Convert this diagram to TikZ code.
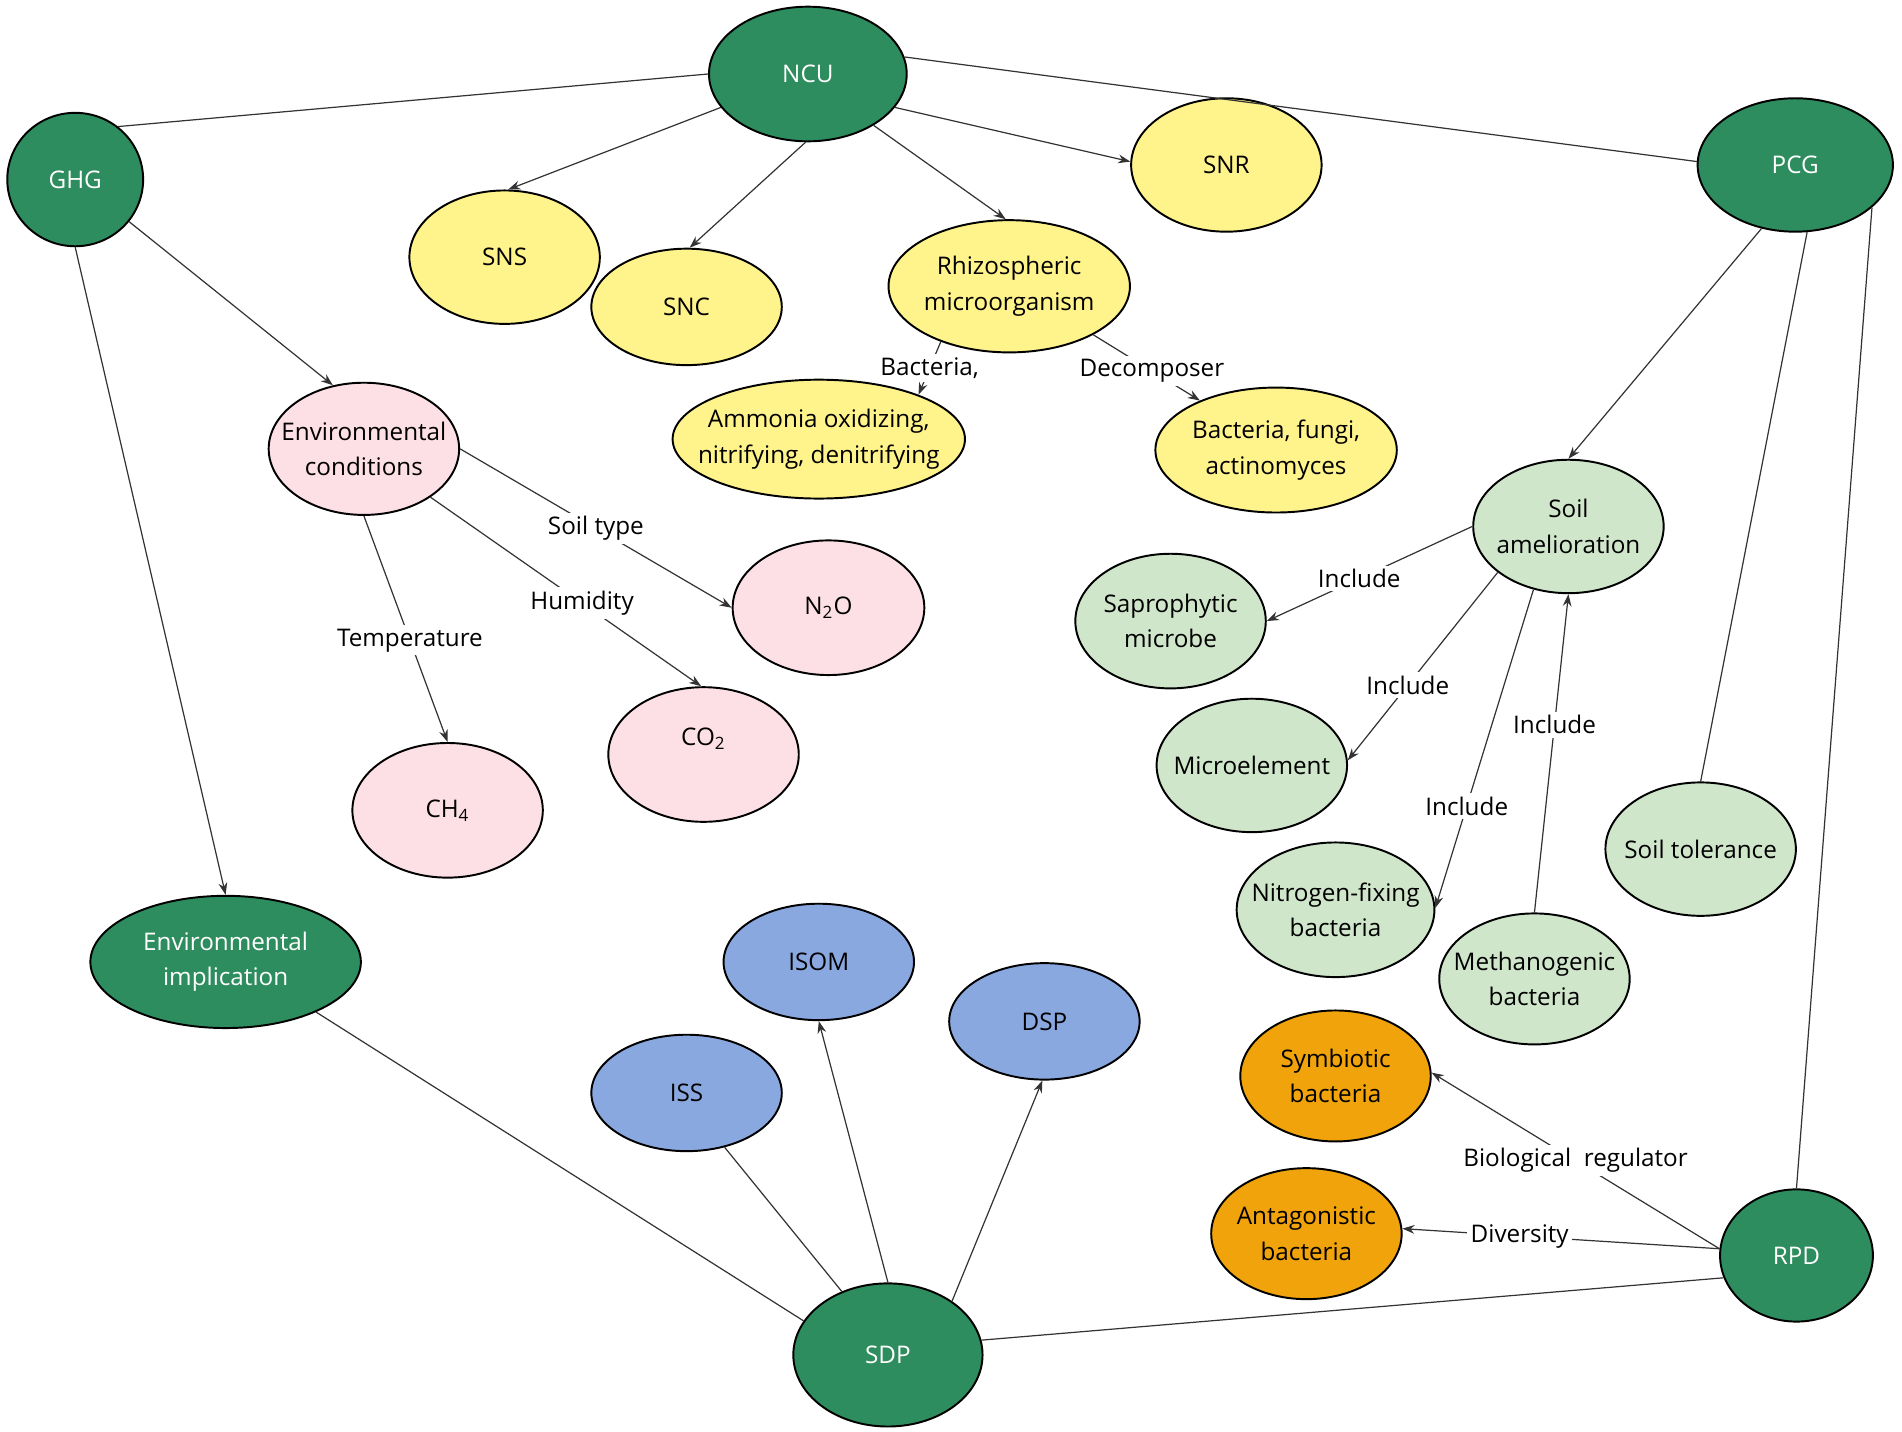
\documentclass[tikz,border=0pt]{standalone}
\usepackage{fontspec}
\setmainfont{Open Sans}
\usepackage{tikz}
\usetikzlibrary{positioning,shapes.geometric,arrows.meta}

\definecolor{hubgreen}{HTML}{2E8D5E}
\definecolor{nitroyellow}{HTML}{FFF38C}
\definecolor{gaspink}{HTML}{FDE0E6}
\definecolor{soilgreen}{HTML}{CFE6CB}
\definecolor{propblue}{HTML}{8AA8E0}
\definecolor{bactorange}{HTML}{F0A30A}
\definecolor{edgegray}{HTML}{333333}

\begin{document}
\begin{tikzpicture}[x=0.5pt, y=-0.5pt,
  >={Stealth[length=5pt,width=3.6pt]},
  every node/.style = {font=\fontsize{10}{14.6}\selectfont, align=center},
  bubble/.style = {shape=ellipse, draw=black, line width=0.8pt,
    inner xsep=-30pt, inner ysep=-20pt,
    minimum width=78.5pt, minimum height=55pt},
  wh/.style 2 args = {minimum width=#1pt/2, minimum height=#2pt/2},
  hub/.style = {bubble, fill=hubgreen, text=white},
  nitro/.style = {bubble, fill=nitroyellow},
  gas/.style = {bubble, fill=gaspink},
  soil/.style = {bubble, fill=soilgreen},
  prop/.style = {bubble, fill=propblue},
  bact/.style = {bubble, fill=bactorange},
  lbl/.style = {fill=white, inner sep=1.5pt, text=black},
  every path/.style = {draw=edgegray, line width=0.5pt}]
    \path[use as bounding box, draw=none] (0,0) rectangle (1568,1180);

    % main topics
    \node[hub, wh={163}{111}] (ncu) at (666,61) {NCU};
    \node[hub, wh={112}{110}] (ghg) at (62,148) {GHG};
    \node[hub, wh={161}{110}] (pcg) at (1480,136) {PCG};
    \node[hub, wh={223}{109}] (envimp) at (186,793) {Environmental\\implication};
    \node[hub, wh={156}{118}] (sdp) at (732,1117) {SDP};
    \node[hub, wh={126}{109}] (rpd) at (1481,1035) {RPD};

    % nitrogen cycle
    \node[nitro] (sns) at (416,212) {SNS};
    \node[nitro, wh={157}{96}] (snc) at (566,253) {SNC};
    \node[nitro] (snr) at (1011,136) {SNR};
    \node[nitro, wh={199}{109}] (rhizo) at (832,236) {Rhizospheric\\microorganism};
    \node[nitro, wh={241}{98}] (ammonia) at (675,362) {Ammonia oxidizing,\\nitrifying, denitrifying};
    \node[nitro, wh={199}{103}] (decomp) at (1052,371) {Bacteria, fungi,\\actinomyces};

    % greenhouse gases
    \node[gas, wh={157}{109}] (envcon) at (300,370) {Environmental\\conditions};
    \node[gas, wh={158}{111}] (nto) at (683,501) {N\textsubscript{2}O};
    \node[gas, wh={157}{111}] (cto) at (580,622) {CO\textsubscript{2}\\\mbox{}};
    \node[gas, wh={157}{111}] (cfour) at (369,668) {CH\textsubscript{4}};

    % soil
    \node[soil] (amel) at (1293,434) {Soil\\amelioration};
    \node[soil, wh={157}{111}] (sapro) at (965,512) {Saprophytic\\microbe};
    \node[soil] (microel) at (1032,631) {Microelement};
    \node[soil, wh={163}{111}] (nfix) at (1101,750) {Nitrogen-fixing\\bacteria};
    \node[soil, wh={157}{108}] (methano) at (1265,807) {Methanogenic\\bacteria};
    \node[soil] (tol) at (1402,700) {Soil tolerance};

    % soil properties
    \node[prop, wh={157}{96}] (isom) at (675,793) {ISOM};
    \node[prop, wh={157}{96}] (iss) at (566,901) {ISS};
    \node[prop, wh={157}{96}] (dsp) at (861,842) {DSP};

    % bacteria
    \node[bact, wh={157}{108}] (symb) at (1101,887) {Symbiotic\\bacteria};
    \node[bact, wh={157}{108}] (antag) at (1077,1017) {Antagonistic\\bacteria};

    \draw (ghg.51) -- (ncu.180);
    \draw (ncu.10) -- (pcg.178);
    \draw[->] (ncu.201) -- (sns.87);
    \draw[->] (ncu.268) -- (snc.87);
    \draw[->] (ncu.-38) -- (rhizo.93);
    \draw[->] (ncu.-21) -- (snr.178);
    \draw[->] (rhizo.219) -- node[lbl] {Bacteria,} (ammonia.24);
    \draw[->] (rhizo.-30) -- node[lbl, pos=0.55] {Decomposer} (decomp.147);

    \draw[->] (ghg.-38) -- (envcon.116);
    \draw[->] (ghg.270) -- (envimp.90);
    \draw[->] (envcon.0) -- node[lbl] {Soil type} (nto.180);
    \draw[->] (envcon.-36) -- node[lbl, pos=0.56] {Humidity} (cto.92);
    \draw[->] (envcon.270) -- node[lbl, pos=0.55] {Temperature} (cfour.90);

    \draw[->] (pcg.242) -- (amel.90);
    \draw (pcg.-80) -- (tol.90);
    \draw (pcg.-29) -- (rpd.90);
    \draw[->] (amel.180) -- node[lbl, pos=0.55] {Include} (sapro.0);
    \draw[->] (amel.213) -- node[lbl, pos=0.6] {Include} (microel.3);
    \draw[->] (amel.241) -- node[lbl, pos=0.68] {Include} (nfix.1);
    \draw[->] (methano.90) -- node[lbl, pos=0.59] {Include} (amel.270);

    \draw[->] (rpd.175) -- node[lbl] {Biological\ \ regulator} (symb.2);
    \draw[->] (rpd.175) -- node[lbl, pos=0.63] {Diversity} (antag.3);
    \draw (rpd.197) -- (sdp.9);

    \draw[->] (sdp.90) -- (isom.270);
    \draw[->] (sdp.40) -- (dsp.268);
    \draw (sdp.126) -- (iss.305);
    \draw (envimp.-29) -- (sdp.158);
\end{tikzpicture}
\end{document}
